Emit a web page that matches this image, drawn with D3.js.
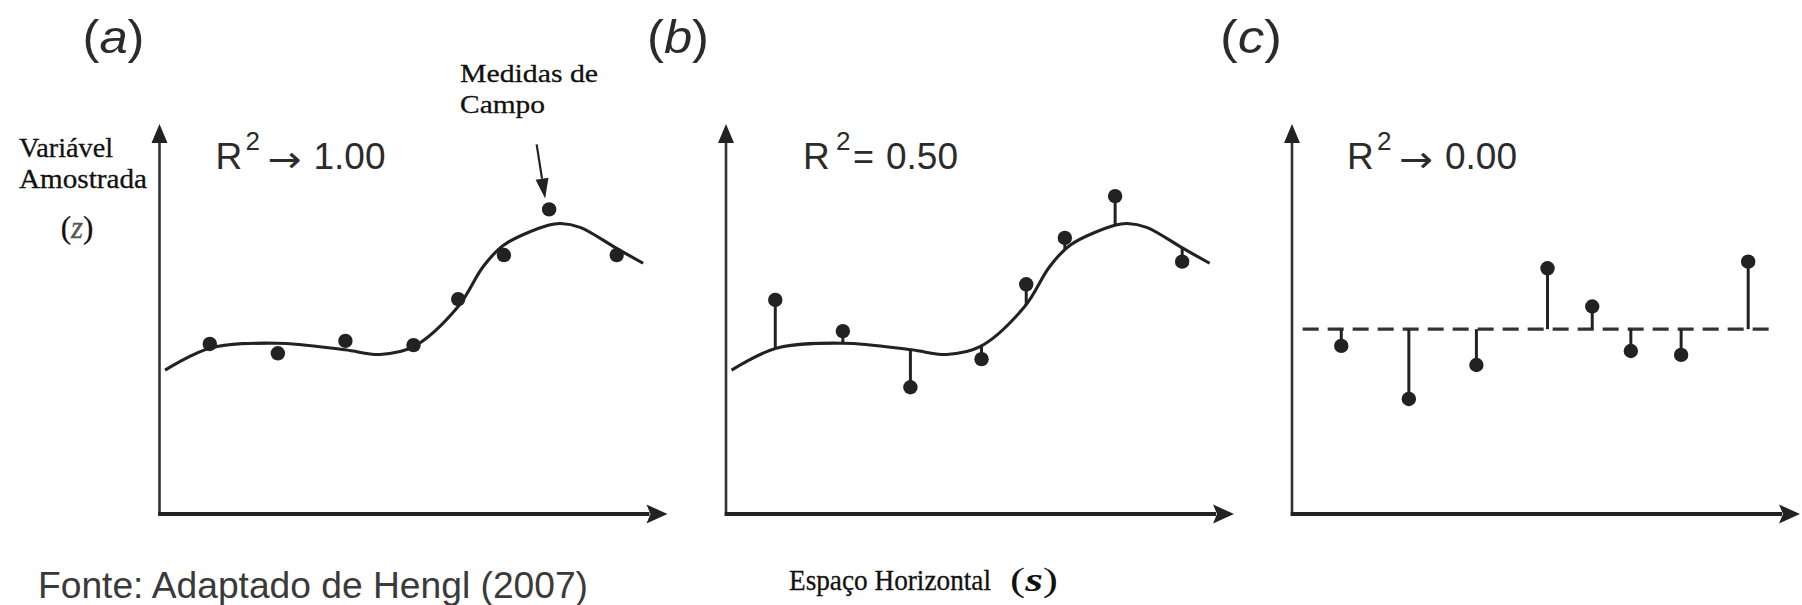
<!DOCTYPE html>
<html>
<head>
<meta charset="utf-8">
<script src="https://cdn.jsdelivr.net/npm/d3@7"></script>
<style>
  html, body { margin: 0; padding: 0; background: #fff; }
  svg { display: block; }
</style>
</head>
<body>
<svg id="chart" width="1802" height="605"></svg>
<script>
// ---- Data ---------------------------------------------------------------
// Trend surface (deterministic part) sampled along horizontal space s
const trendS = [0.11, 0.99, 2.31, 3.65, 4.34, 5.0, 5.88, 6.37, 6.78, 7.67, 7.9, 8.28, 9.0, 9.52];
const trendZ = [3.69, 4.25, 4.38, 4.21, 4.09, 4.29, 5.32, 6.34, 6.90, 7.41, 7.45, 7.35, 6.81, 6.43];

// Sampling locations along s
const sitesA = [0.99, 2.33, 3.66, 5.0, 5.88, 6.78, 7.67, 9.0];
const sites  = [0.97, 2.30, 3.63, 5.03, 5.91, 6.67, 7.66, 8.98];

// Field measurements of z in each scenario
const zA = [4.36, 4.12, 4.44, 4.33, 5.51, 6.64, 7.81, 6.64];
const zB = [5.49, 4.69, 3.25, 3.97, 5.89, 7.08, 8.15, 6.47];
const zC = [4.31, 2.95, 3.82, 6.30, 5.32, 4.18, 4.08, 6.47];

// Scenario (c): constant mean and the stretch of s it is drawn over
const meanC = 4.74;
const meanSpan = [0.21, 9.44];

// Labels
const panelTags = ["a", "b", "c"];
const r2Ops = ["\u2192", "=", "\u2192"];
const r2Values = ["1.00", "0.50", "0.00"];

// ---- Layout -------------------------------------------------------------
const svg = d3.select("#chart");
const ink = "#222";
const sans = "'Liberation Sans', Arial, Helvetica, sans-serif";
const serif = "'Liberation Serif', 'Times New Roman', Times, serif";

const panelX = [159.5, 726, 1292];
const baseY = 514;
const axisLen = 508;
const axisH = 390;
const r2Dx = [56, 77, 55];
const tagDx = [-46, -48, -41];

const x = d3.scaleLinear().domain([0, 10]).range([0, axisLen]);
const y = d3.scaleLinear().domain([0, 10]).range([0, -axisH]);

const trend = d3.line()
  .x(d => x(d[0]))
  .y(d => y(d[1]))
  .curve(d3.curveCatmullRom.alpha(0.5));
const trendPts = trendS.map((s, i) => [s, trendZ[i]]);

// y (in panel pixels) of a drawn path at a given horizontal pixel position
function pathYAt(node, px) {
  let lo = 0, hi = node.getTotalLength();
  for (let k = 0; k < 40; k++) {
    const mid = (lo + hi) / 2;
    if (node.getPointAtLength(mid).x < px) lo = mid; else hi = mid;
  }
  return node.getPointAtLength((lo + hi) / 2).y;
}

panelTags.forEach((tag, i) => {
  const g = svg.append("g").attr("transform", `translate(${panelX[i]},${baseY})`);

  // Vertical axis with arrow head
  g.append("line")
    .attr("x1", 0).attr("x2", 0)
    .attr("y1", 1.5).attr("y2", y(10) + 16)
    .attr("stroke", "#333").attr("stroke-width", 2.6);
  g.append("path")
    .attr("d", `M0,${y(10)} L-8,${y(10) + 19} L8,${y(10) + 19} Z`)
    .attr("fill", ink);

  // Horizontal axis with arrow head
  g.append("line")
    .attr("x1", -1.3).attr("x2", x(10) - 18)
    .attr("y1", 0).attr("y2", 0)
    .attr("stroke", ink).attr("stroke-width", 3.8);
  g.append("path")
    .attr("d", `M${x(10)},0 L${x(10) - 21},-9.5 L${x(10) - 17},0 L${x(10) - 21},9.5 Z`)
    .attr("fill", ink);

  // Panel tag, e.g. (a)
  const tg = svg.append("text")
    .attr("x", panelX[i] + tagDx[i]).attr("y", 53)
    .attr("text-anchor", "middle")
    .attr("font-family", sans).attr("font-size", 46)
    .attr("textLength", 62).attr("lengthAdjust", "spacingAndGlyphs")
    .attr("fill", "#2b2b2b");
  tg.append("tspan").text("(");
  tg.append("tspan").attr("font-style", "italic").text(tag);
  tg.append("tspan").text(")");

  // Coefficient of determination
  const x0 = panelX[i] + r2Dx[i];
  const isEq = r2Ops[i] === "=";
  const r2 = svg.append("g").attr("font-family", sans).attr("fill", "#2b2b2b");
  r2.append("text").attr("x", x0).attr("y", 168.5).attr("font-size", 37).text("R");
  r2.append("text").attr("x", x0 + (isEq ? 33 : 30)).attr("y", 150).attr("font-size", 26).text("2");
  r2.append("text")
    .attr("x", x0 + (isEq ? 50 : 52)).attr("y", isEq ? 168.5 : 172)
    .attr("font-family", isEq ? sans : "'DejaVu Sans', sans-serif")
    .attr("font-size", isEq ? 37 : 36)
    .attr("textLength", isEq ? 21 : 34).attr("lengthAdjust", "spacingAndGlyphs")
    .text(r2Ops[i]);
  r2.append("text").attr("x", x0 + (isEq ? 83 : 98)).attr("y", 168.5).attr("font-size", 37)
    .text(r2Values[i]);

  if (i < 2) {
    const curve = g.append("path")
      .datum(trendPts)
      .attr("d", trend)
      .attr("fill", "none")
      .attr("stroke", ink)
      .attr("stroke-width", 3.1);

    const s = i === 0 ? sitesA : sites;
    const z = i === 0 ? zA : zB;

    if (i === 1) {
      const node = curve.node();
      g.selectAll("line.res")
        .data(s)
        .join("line")
        .attr("class", "res")
        .attr("x1", d => x(d)).attr("x2", d => x(d))
        .attr("y1", (d, j) => y(z[j]))
        .attr("y2", d => pathYAt(node, x(d)))
        .attr("stroke", ink).attr("stroke-width", 3);
    }

    g.selectAll("circle.obs")
      .data(s)
      .join("circle")
      .attr("class", "obs")
      .attr("cx", d => x(d))
      .attr("cy", (d, j) => y(z[j]))
      .attr("r", 7.2)
      .attr("fill", ink);
  } else {
    g.append("line")
      .attr("x1", x(meanSpan[0])).attr("x2", x(meanSpan[1]))
      .attr("y1", y(meanC)).attr("y2", y(meanC))
      .attr("stroke", "#333").attr("stroke-width", 3.2)
      .attr("stroke-dasharray", "16,9");

    g.selectAll("line.res")
      .data(sites)
      .join("line")
      .attr("class", "res")
      .attr("x1", d => x(d)).attr("x2", d => x(d))
      .attr("y1", (d, j) => y(zC[j]))
      .attr("y2", y(meanC))
      .attr("stroke", ink).attr("stroke-width", 3);

    g.selectAll("circle.obs")
      .data(sites)
      .join("circle")
      .attr("class", "obs")
      .attr("cx", d => x(d))
      .attr("cy", (d, j) => y(zC[j]))
      .attr("r", 7.2)
      .attr("fill", ink);
  }
});

// Vertical axis title
const yTitle = svg.append("g").attr("font-family", serif).attr("fill", "#111")
  .attr("stroke", "#111").attr("stroke-width", 0.3);
yTitle.append("text").attr("x", 19).attr("y", 157)
  .attr("font-size", 27).attr("textLength", 94).attr("lengthAdjust", "spacingAndGlyphs")
  .text("Variável");
yTitle.append("text").attr("x", 19).attr("y", 188)
  .attr("font-size", 27).attr("textLength", 128).attr("lengthAdjust", "spacingAndGlyphs")
  .text("Amostrada");
const zt = yTitle.append("text").attr("x", 77).attr("y", 238)
  .attr("text-anchor", "middle").attr("font-size", 31);
zt.append("tspan").text("(");
zt.append("tspan").attr("font-style", "italic").attr("fill", "#555").attr("stroke", "#555").text("z");
zt.append("tspan").text(")");

// Annotation: field measurements
const ann = svg.append("g").attr("font-family", serif).attr("fill", "#111")
  .attr("stroke", "#111").attr("stroke-width", 0.3);
ann.append("text").attr("x", 460).attr("y", 82)
  .attr("font-size", 26).attr("textLength", 138).attr("lengthAdjust", "spacingAndGlyphs")
  .text("Medidas de");
ann.append("text").attr("x", 460).attr("y", 113)
  .attr("font-size", 26).attr("textLength", 85).attr("lengthAdjust", "spacingAndGlyphs")
  .text("Campo");

// Arrow pointing at one measurement in panel (a)
{
  const k = 6;
  const px = panelX[0] + x(sitesA[k]);
  const py = baseY + y(zA[k]);
  const tip = [px - 4, py - 11];
  const tail = [px - 12.5, py - 65];
  const dx = tip[0] - tail[0], dy = tip[1] - tail[1];
  const len = Math.hypot(dx, dy);
  const ux = dx / len, uy = dy / len;
  const hb = [tip[0] - ux * 20, tip[1] - uy * 20];
  svg.append("line")
    .attr("x1", tail[0]).attr("y1", tail[1])
    .attr("x2", hb[0]).attr("y2", hb[1])
    .attr("stroke", ink).attr("stroke-width", 2.2);
  svg.append("path")
    .attr("d", `M${tip[0]},${tip[1]} L${hb[0] - uy * 6.5},${hb[1] + ux * 6.5} L${hb[0] + uy * 6.5},${hb[1] - ux * 6.5} Z`)
    .attr("fill", ink);
}

// Horizontal axis title
const xt = svg.append("g").attr("fill", "#111");
xt.append("text").attr("x", 789).attr("y", 590)
  .attr("font-family", serif).attr("font-size", 30)
  .attr("stroke", "#111").attr("stroke-width", 0.3)
  .attr("textLength", 202).attr("lengthAdjust", "spacingAndGlyphs")
  .text("Espaço Horizontal");
const st = xt.append("text").attr("x", 1034).attr("y", 591)
  .attr("text-anchor", "middle")
  .attr("font-family", serif).attr("font-size", 34)
  .attr("textLength", 48).attr("lengthAdjust", "spacingAndGlyphs");
st.append("tspan").text("(");
st.append("tspan").attr("font-style", "italic").attr("font-weight", "bold").text("s");
st.append("tspan").text(")");

// Source note
svg.append("text").attr("x", 38).attr("y", 598)
  .attr("font-family", sans).attr("font-size", 36).attr("fill", "#3a3a3a")
  .attr("textLength", 550).attr("lengthAdjust", "spacingAndGlyphs")
  .text("Fonte: Adaptado de Hengl (2007)");
</script>
</body>
</html>
